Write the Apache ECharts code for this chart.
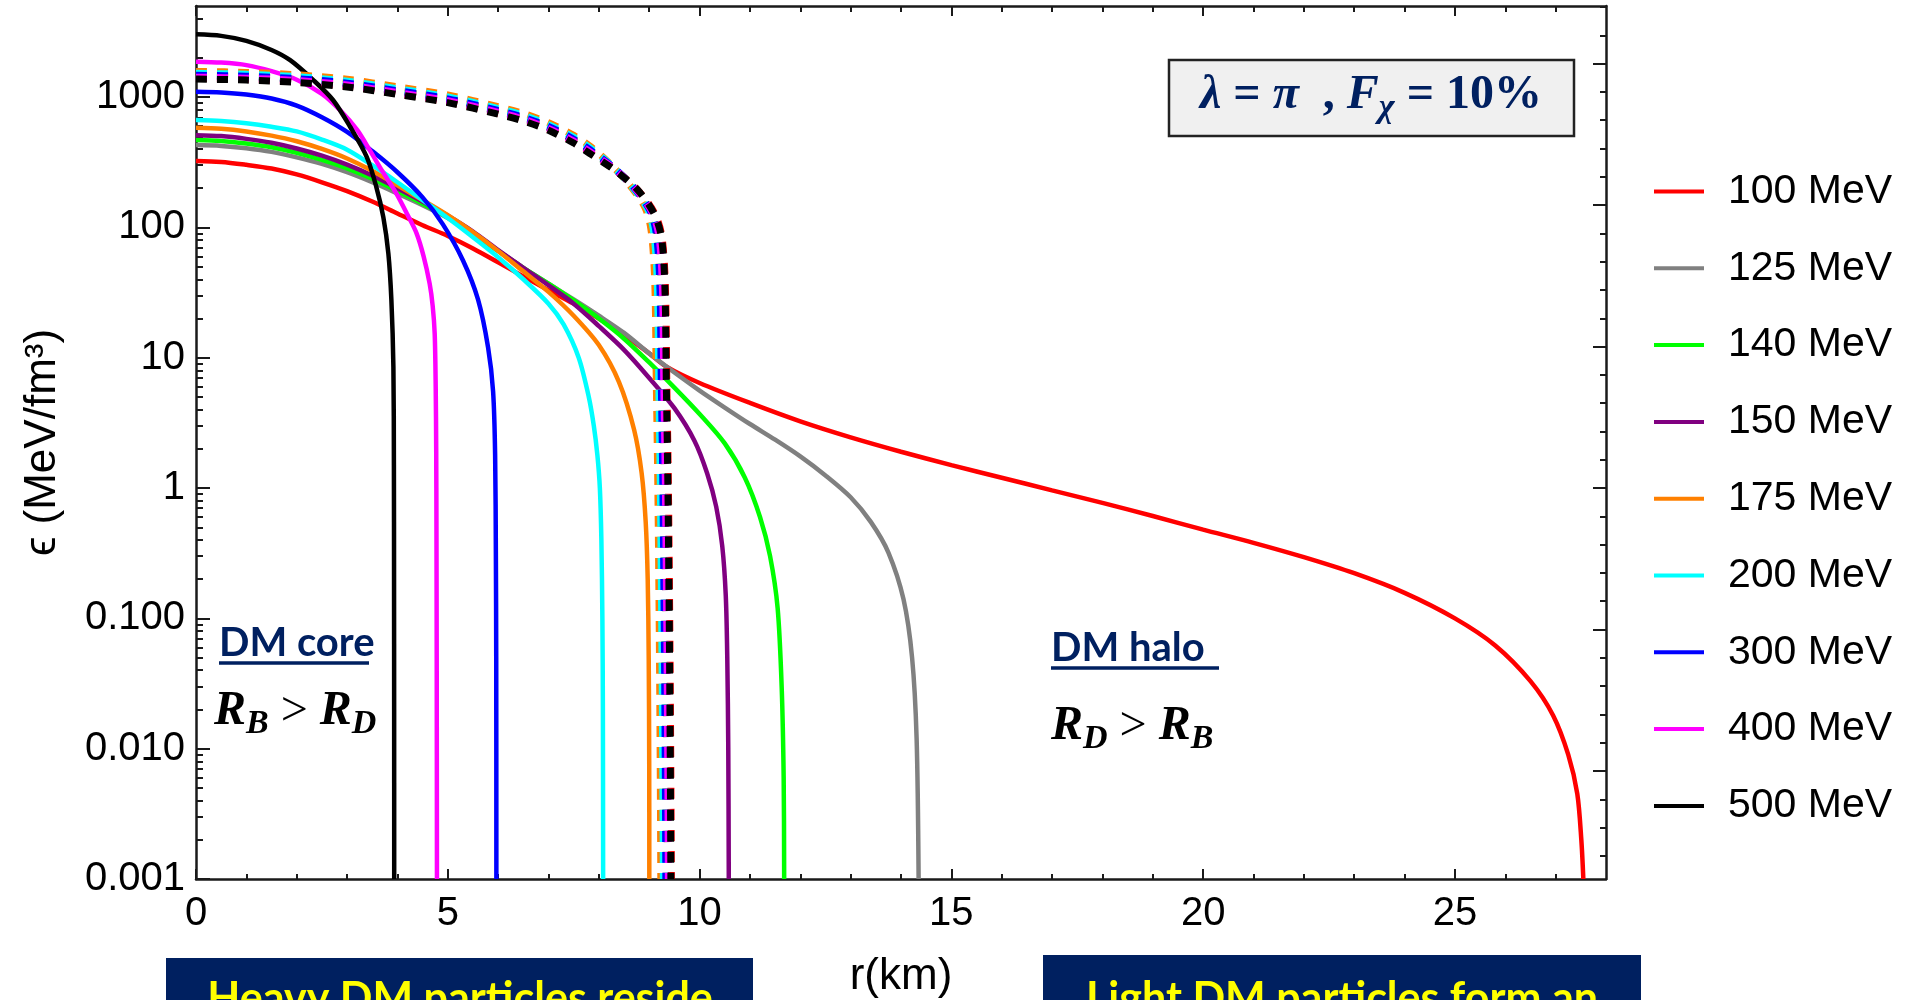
<!DOCTYPE html>
<html>
<head>
<meta charset="utf-8">
<script src="https://cdn.jsdelivr.net/npm/echarts@6/dist/echarts.min.js"></script>
<style>
html,body{margin:0;padding:0;background:#fff;}
#chart{width:1911px;height:1000px;}
</style>
</head>
<body>
<div id="chart"></div>
<script>
// ---------------- DATA ----------------
const massLabels = ['100 MeV','125 MeV','140 MeV','150 MeV','175 MeV','200 MeV','300 MeV','400 MeV','500 MeV'];

// DM energy density profiles (solid lines): [r (km), eps (MeV/fm^3)]
const dm100 = [[0,323],[0.5,318],[1,302],[1.5,283],[2,255],[2.5,222],[3,190],[3.5,158],[4,128],[4.5,104],[5,86],[5.5,69],[6,54],[6.5,42],[7,33],[7.5,26],[8,20],[8.5,15],[9,10.8],[9.35,8.5],[10,6.4],[11,4.5],[12,3.25],[13,2.45],[14,1.9],[15,1.5],[16,1.2],[17,0.96],[18,0.77],[19,0.61],[20,0.48],[21,0.38],[22,0.295],[23,0.222],[24,0.157],[25,0.1],[25.8,0.062],[26.5,0.033],[26.95,0.018],[27.25,0.009],[27.43,0.0045],[27.51,0.002],[27.55,0.001]];
const dm125 = [[0,428],[0.5,422],[1,405],[1.5,380],[2,345],[2.5,307],[3,265],[3.5,222],[4,182],[4.5,148],[5,118],[5.5,90],[6,66],[6.5,49],[7,37],[7.5,28],[8,21],[8.5,15.5],[9,10.8],[9.5,7.7],[10,5.6],[10.5,4.15],[11,3.1],[11.5,2.35],[12,1.75],[12.5,1.25],[13,0.85],[13.4,0.55],[13.75,0.32],[14.05,0.14],[14.22,0.05],[14.31,0.012],[14.35,0.001]];
const dm140 = [[0,468],[0.5,461],[1,440],[1.5,412],[2,374],[2.5,330],[3,284],[3.5,236],[4,190],[4.5,152],[5,120],[5.5,91],[6,66],[6.5,49],[7,37],[7.5,27.5],[8,20],[8.5,14],[9,9.2],[9.5,5.9],[10,3.7],[10.5,2.2],[10.9,1.2],[11.2,0.6],[11.4,0.3],[11.55,0.12],[11.63,0.03],[11.67,0.006],[11.68,0.001]];
const dm150 = [[0,510],[0.5,502],[1,478],[1.5,446],[2,403],[2.5,355],[3,303],[3.5,250],[4,200],[4.5,158],[5,123],[5.5,93],[6,67],[6.5,49],[7,36],[7.5,26],[8,17.5],[8.5,11.5],[9,7],[9.5,4.1],[9.9,2.3],[10.15,1.3],[10.33,0.72],[10.45,0.36],[10.52,0.15],[10.55,0.05],[10.57,0.01],[10.58,0.001]];
const dm175 = [[0,582],[0.5,572],[1,545],[1.5,506],[2,458],[2.5,400],[3,338],[3.5,272],[4,210],[4.5,162],[5,124],[5.5,92],[6,66],[6.5,46],[7,32],[7.5,21],[8,12.5],[8.4,6.5],[8.7,2.8],[8.85,1.3],[8.93,0.55],[8.97,0.2],[8.99,0.05],[9,0.008],[9.002,0.001]];
const dm200 = [[0,666],[0.5,655],[1,630],[1.5,592],[2,545],[2.5,472],[3,395],[3.5,300],[4,222],[4.5,162],[5,118],[5.5,84],[6,59],[6.5,40],[7,26],[7.3,18],[7.6,10],[7.8,5],[7.9,3.0],[7.97,1.8],[8.02,1.0],[8.05,0.4],[8.07,0.1],[8.08,0.02],[8.085,0.001]];
const dm300 = [[0,1100],[0.5,1085],[1,1045],[1.5,975],[2,860],[2.5,700],[3,540],[3.5,385],[4,265],[4.5,170],[4.9,106],[5.3,56],[5.6,28],[5.8,12],[5.9,5.5],[5.94,1.8],[5.955,0.3],[5.962,0.05],[5.965,0.001]];
const dm400 = [[0,1870],[0.5,1840],[1,1760],[1.5,1580],[2,1360],[2.5,1060],[2.86,795],[3.2,560],[3.45,392],[3.7,270],[3.98,182],[4.2,125],[4.38,90],[4.52,60],[4.64,37],[4.7,25],[4.74,15.3],[4.76,6],[4.77,2],[4.775,0.5],[4.78,0.05],[4.785,0.001]];
const dm500 = [[0,3030],[0.5,2950],[1,2700],[1.5,2300],[1.87,1920],[2.33,1350],[2.72,950],[3.06,592],[3.39,348],[3.58,205],[3.72,120],[3.82,63],[3.88,27.7],[3.92,8.5],[3.93,1.5],[3.933,0.2],[3.935,0.02],[3.936,0.001]];

// Baryonic matter profiles (dotted lines): [r (km), eps (MeV/fm^3)]
const bm100 = [[0,1395],[1,1370],[2,1312],[3,1212],[4,1060],[5,918],[6,748],[6.5,663],[7,564],[7.5,450],[7.82,375],[8.31,278],[8.76,196],[9.1,130],[9.25,86],[9.32,36],[9.35,6.1],[9.38,1.1],[9.41,0.076],[9.43,0.006],[9.44,0.001]];
const bm125 = [[0,1465],[1,1440],[2,1380],[3,1275],[4,1115],[5,966],[6,787],[6.5,697],[7,593],[7.5,473],[7.82,393],[8.28,289],[8.69,204],[9.02,135],[9.15,89],[9.22,36.8],[9.25,6.3],[9.28,1.1],[9.31,0.076],[9.33,0.006],[9.34,0.001]];
const bm140 = [[0,1450],[1,1425],[2,1366],[3,1262],[4,1104],[5,956],[6,779],[6.5,690],[7,587],[7.5,468],[7.82,389],[8.28,286],[8.7,202],[9.03,134],[9.16,89],[9.23,36.7],[9.26,6.3],[9.29,1.1],[9.32,0.076],[9.34,0.006],[9.35,0.001]];
const bm150 = [[0,1440],[1,1415],[2,1356],[3,1253],[4,1096],[5,949],[6,773],[6.5,685],[7,582],[7.5,464],[7.82,386],[8.29,284],[8.7,201],[9.03,134],[9.17,88],[9.24,36.6],[9.27,6.2],[9.3,1.1],[9.33,0.076],[9.35,0.006],[9.36,0.001]];
const bm175 = [[0,1575],[1,1547],[2,1482],[3,1370],[4,1199],[5,1038],[6,845],[6.5,749],[7,636],[7.5,508],[7.82,422],[8.24,303],[8.6,214],[8.92,141],[9.04,93],[9.11,38],[9.14,6.6],[9.17,1.1],[9.2,0.076],[9.22,0.006],[9.23,0.001]];
const bm200 = [[0,1522],[1,1495],[2,1433],[3,1324],[4,1159],[5,1004],[6,817],[6.5,724],[7,615],[7.5,491],[7.82,409],[8.26,296],[8.64,209],[8.97,138],[9.09,91],[9.16,37.5],[9.19,6.4],[9.22,1.1],[9.25,0.076],[9.27,0.006],[9.28,0.001]];
const bm300 = [[0,1470],[1,1445],[2,1385],[3,1280],[4,1120],[5,970],[6,790],[6.5,700],[7,595],[7.5,475],[7.82,395],[8.28,290],[8.68,205],[9.01,136],[9.14,90],[9.21,37],[9.24,6.3],[9.27,1.1],[9.3,0.076],[9.32,0.006],[9.33,0.001]];
const bm400 = [[0,1422],[1,1397],[2,1339],[3,1238],[4,1083],[5,938],[6,764],[6.5,677],[7,575],[7.5,459],[7.82,382],[8.3,282],[8.72,199],[9.05,132],[9.19,87],[9.26,36.4],[9.29,6.2],[9.32,1.1],[9.35,0.076],[9.37,0.006],[9.38,0.001]];
const bm500 = [[0,1375],[1,1351],[2,1295],[3,1197],[4,1047],[5,907],[6,739],[6.5,655],[7,556],[7.5,444],[7.82,369],[8.32,274],[8.77,194],[9.09,129],[9.24,85],[9.31,36],[9.34,6.1],[9.37,1.1],[9.4,0.076],[9.42,0.006],[9.43,0.001]];

// Axis ticks and labels
const xMajorTicks = [0,5,10,15,20,25];
const xMinorTicks = [1,2,3,4,6,7,8,9,11,12,13,14,16,17,18,19,21,22,23,24,26,27];
const yTickValues = [0.001,0.01,0.1,1,10,100,1000];
const yTickLabels = ['0.001','0.010','0.100','1','10','100','1000'];
const rightMajorTicks = [-5,-2.5,0,2.5,5,7.5];   // natural-log frame ticks (right side)

const dmSeries = [dm100,dm125,dm140,dm150,dm175,dm200,dm300,dm400,dm500];
const bmSeries = [bm100,bm125,bm140,bm150,bm175,bm200,bm300,bm400,bm500];

// ---------------- STYLE ----------------
const colors = ['#ff0000','#808080','#00ff00','#800080','#ff8000','#00ffff','#0000ff','#ff00ff','#000000'];
const SANS = '"Liberation Sans", Arial, sans-serif';
const SERIF = '"Liberation Serif", "Times New Roman", serif';
const CAL = 'Lato, "Open Sans", sans-serif';
const NAVY = '#002060';
const FRAME = '#1a1a1a';

const yMin = 0.001, yMax = 5000;
const yMinorTicks = [];
yTickValues.concat([10000]).forEach(d => { for (let k = 2; k <= 9; k++) { const v = d * k; if (v < yMax) yMinorTicks.push(+v.toPrecision(3)); } });
const rightMinorTicks = [];
for (let v = -6.5; v <= 8.5; v += 0.5) { if (Math.abs(v / 2.5 - Math.round(v / 2.5)) > 1e-9) rightMinorTicks.push(v); }

const tickLine = {color: FRAME, width: 2};

function yLabel(v) {
  let best = 0, bd = Infinity;
  yTickValues.forEach((t, i) => { const d = Math.abs(Math.log10(v) - Math.log10(t)); if (d < bd) { bd = d; best = i; } });
  return yTickLabels[best];
}

const series = [];
dmSeries.forEach((d, i) => {
  series.push({
    type: 'line', name: massLabels[i], data: d, xAxisIndex: 0, yAxisIndex: 0,
    symbol: 'none', showSymbol: false, smooth: 0.3, color: colors[i],
    lineStyle: {color: colors[i], width: 4.5}, z: 2, silent: true
  });
});
bmSeries.forEach((d, i) => {
  series.push({
    type: 'line', name: massLabels[i] + ' baryons', data: d, xAxisIndex: 0, yAxisIndex: 0,
    symbol: 'none', showSymbol: false, smooth: 0.3, color: colors[i],
    lineStyle: {color: colors[i], width: 7, type: [11, 10], cap: 'butt'}, z: 3, silent: true
  });
});

const mathRich = (col) => ({
  i: {fontSize: 48, fontFamily: SERIF, fontWeight: 'bold', fontStyle: 'italic', fill: col},
  n: {fontSize: 48, fontFamily: SERIF, fill: col},
  b: {fontSize: 48, fontFamily: SERIF, fontWeight: 'bold', fill: col},
  s: {fontSize: 34, fontFamily: SERIF, fontWeight: 'bold', fontStyle: 'italic', fill: col, padding: [24, 0, 0, 0]}
});

const option = {
  animation: false,
  backgroundColor: '#ffffff',
  grid: {left: 196, right: 305, top: 6, bottom: 121, containLabel: false, outerBoundsMode: 'none'},
  legend: {
    data: massLabels, orient: 'vertical', left: 1654, top: 171, padding: 0,
    itemWidth: 50, itemHeight: 4, itemGap: 35.8, icon: 'rect', selectedMode: false,
    textStyle: {fontSize: 41, color: '#000', fontFamily: SANS, padding: [0, 0, 0, 19]}
  },
  xAxis: [
    {type: 'value', min: 0, max: 28, position: 'bottom',
     axisLine: {show: true, onZero: false, lineStyle: {color: FRAME, width: 2.5}},
     axisTick: {show: true, inside: true, length: 10, customValues: xMajorTicks, lineStyle: tickLine},
     axisLabel: {show: true, customValues: xMajorTicks, margin: 15, fontSize: 40, color: '#000', fontFamily: SANS},
     splitLine: {show: false},
     name: 'r(km)', nameLocation: 'middle', nameGap: 76,
     nameTextStyle: {fontSize: 44, color: '#000', fontFamily: SANS}},
    {type: 'value', min: 0, max: 28, position: 'bottom',
     axisLine: {show: false, onZero: false},
     axisTick: {show: true, inside: true, length: 5, customValues: xMinorTicks, lineStyle: tickLine},
     axisLabel: {show: false}, splitLine: {show: false}},
    {type: 'value', min: 0, max: 28, position: 'top',
     axisLine: {show: true, onZero: false, lineStyle: {color: FRAME, width: 2.5}},
     axisTick: {show: true, inside: true, length: 10, customValues: xMajorTicks, lineStyle: tickLine},
     axisLabel: {show: false}, splitLine: {show: false}},
    {type: 'value', min: 0, max: 28, position: 'top',
     axisLine: {show: false, onZero: false},
     axisTick: {show: true, inside: true, length: 6, customValues: xMinorTicks, lineStyle: tickLine},
     axisLabel: {show: false}, splitLine: {show: false}}
  ],
  yAxis: [
    {type: 'log', logBase: 10, min: yMin, max: yMax, position: 'left',
     axisLine: {show: true, onZero: false, lineStyle: {color: FRAME, width: 2.5}},
     axisTick: {show: true, inside: true, length: 14, customValues: yTickValues, lineStyle: tickLine},
     axisLabel: {show: true, customValues: yTickValues, formatter: yLabel, margin: 11, fontSize: 40, color: '#000', fontFamily: SANS},
     splitLine: {show: false},
     name: 'ϵ (MeV/fm³)', nameLocation: 'middle', nameGap: 131, nameRotate: 90,
     nameTextStyle: {fontSize: 44, color: '#000', fontFamily: SANS}},
    {type: 'log', logBase: 10, min: yMin, max: yMax, position: 'left',
     axisLine: {show: false, onZero: false},
     axisTick: {show: true, inside: true, length: 7, customValues: yMinorTicks, lineStyle: tickLine},
     axisLabel: {show: false}, splitLine: {show: false}},
    {type: 'value', min: Math.log(yMin), max: Math.log(yMax), position: 'right',
     axisLine: {show: true, onZero: false, lineStyle: {color: FRAME, width: 2.5}},
     axisTick: {show: true, inside: true, length: 13, customValues: rightMajorTicks, lineStyle: tickLine},
     axisLabel: {show: false}, splitLine: {show: false}},
    {type: 'value', min: Math.log(yMin), max: Math.log(yMax), position: 'right',
     axisLine: {show: false, onZero: false},
     axisTick: {show: true, inside: true, length: 6, customValues: rightMinorTicks, lineStyle: tickLine},
     axisLabel: {show: false}, splitLine: {show: false}}
  ],
  graphic: {elements: [
    // parameter box
    {type: 'rect', shape: {x: 1169, y: 60, width: 405, height: 76}, style: {fill: '#f0f0f0', stroke: '#222', lineWidth: 2.5}, z: 10},
    {type: 'text', x: 1371, y: 96, z: 11, style: {
      text: '{i|λ} {b|=} {i|π}  {b|,} {i|F}{s|χ} {b|=} {b|10%}',
      fontSize: 48, fontFamily: SERIF, fontWeight: 'bold', fill: NAVY, align: 'center', verticalAlign: 'middle',
      rich: mathRich(NAVY)}},
    // DM core
    {type: 'text', x: 219, y: 643, z: 10, style: {text: 'DM core', fontSize: 40, fontWeight: 'bold', fontFamily: CAL, fill: NAVY, align: 'left', verticalAlign: 'middle'}},
    {type: 'line', shape: {x1: 219, y1: 663, x2: 369, y2: 663}, style: {stroke: NAVY, lineWidth: 3.5}, z: 10},
    {type: 'text', x: 214, y: 712, z: 10, style: {
      text: '{i|R}{s|B} {n|>} {i|R}{s|D}', fontSize: 48, fontFamily: SERIF, fill: '#000', align: 'left', verticalAlign: 'middle',
      rich: mathRich('#000')}},
    // DM halo
    {type: 'text', x: 1051, y: 648, z: 10, style: {text: 'DM halo', fontSize: 40, fontWeight: 'bold', fontFamily: CAL, fill: NAVY, align: 'left', verticalAlign: 'middle'}},
    {type: 'line', shape: {x1: 1051, y1: 668, x2: 1219, y2: 668}, style: {stroke: NAVY, lineWidth: 3.5}, z: 10},
    {type: 'text', x: 1051, y: 727, z: 10, style: {
      text: '{i|R}{s|D} {n|>} {i|R}{s|B}', fontSize: 48, fontFamily: SERIF, fill: '#000', align: 'left', verticalAlign: 'middle',
      rich: mathRich('#000')}},
    // bottom banners
    {type: 'rect', shape: {x: 166, y: 958, width: 587, height: 60}, style: {fill: NAVY}, z: 10},
    {type: 'text', x: 460, y: 999, z: 11, style: {text: 'Heavy DM particles reside', fontSize: 43, fontWeight: 'bold', fontFamily: CAL, fill: '#ffff00', align: 'center', verticalAlign: 'middle'}},
    {type: 'rect', shape: {x: 1043, y: 955, width: 598, height: 60}, style: {fill: NAVY}, z: 10},
    {type: 'text', x: 1342, y: 999, z: 11, style: {text: 'Light DM particles form an', fontSize: 43, fontWeight: 'bold', fontFamily: CAL, fill: '#ffff00', align: 'center', verticalAlign: 'middle'}}
  ]},
  series: series
};

const chart = echarts.init(document.getElementById('chart'), null, {renderer: 'canvas'});
chart.setOption(option);
</script>
</body>
</html>
